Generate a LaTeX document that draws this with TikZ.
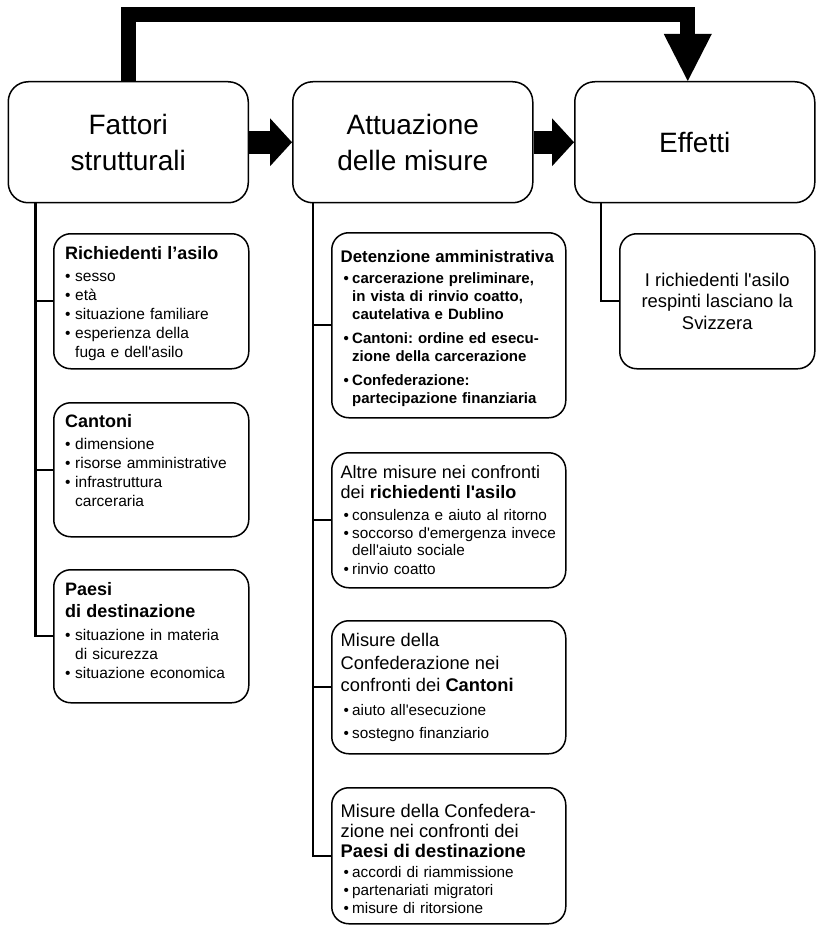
\documentclass[tikz,border=0pt]{standalone}
\usepackage{fontspec}
\setmainfont{Liberation Sans}[Ligatures=TeXOff]
\usetikzlibrary{arrows.meta}
\frenchspacing

\newlength\bulin
\newlength\bulwd
\newcommand{\bul}[2][0pt]{\par\vspace{#1}\leavevmode
  \hangindent=\dimexpr\bulin+\bulwd\relax\hangafter=1
  \hspace*{\bulin}\makebox[\bulwd][l]{\textbullet}#2}

\begin{document}
\begin{tikzpicture}[x=1pt, y=-1pt,
  mainbox/.style={draw, line width=1.5pt, rounded corners=20pt, inner sep=0pt,
    anchor=north west, minimum width=240pt, minimum height=121pt, align=center,
    font=\fontsize{28}{36}\selectfont},
  subbox/.style={draw, line width=1.5pt, rounded corners=17pt, inner sep=0pt, anchor=north west},
  leftbox/.style={subbox, minimum width=195pt},
  midbox/.style={subbox, minimum width=234pt},
  boxtext/.style={anchor=base west, inner sep=0pt, align=left},
  lefttext/.style={boxtext, text width=180pt, font=\fontsize{15.5}{19}\selectfont,
    execute at begin node={\setlength\bulin{0pt}\setlength\bulwd{10pt}}},
  midtext/.style={boxtext, text width=222pt, font=\fontsize{15.3}{17}\selectfont,
    execute at begin node={\setlength\bulin{3pt}\setlength\bulwd{8.5pt}}},
  tree/.style={line width=2.2pt},
  fatarrow/.style={line width=23pt, -{Triangle[length=22pt, width=48pt, line width=0pt]}}]

\useasboundingbox (0,0) rectangle (815,925);

% main row
\node[mainbox] (fat) at (7.5,81) {Fattori\\strutturali};
\node[mainbox] (att) at (292,81) {Attuazione\\delle misure};
\node[mainbox] (eff) at (574,81) {Effetti};

\draw[fatarrow] (fat.east) -- (att.west);
\draw[fatarrow] (att.east) -- (eff.west);

\coordinate (topbar) at (400,15);
\draw[line width=15pt, line join=miter, -{Triangle[length=47pt, width=48pt, line width=0pt]}]
  (fat.north) |- (topbar) -| ([xshift=-7pt]eff.north);

% fattori strutturali
\node[leftbox, minimum height=135pt] (rich) at (53,233) {};
\node[lefttext] (richt) at ([xshift=12pt,yshift=-26pt]rich.north west)
  {{\fontsize{18}{22}\selectfont\bfseries Richiedenti l’asilo\par}%
   \bul[3.5pt]{sesso}\bul{età}\bul{situazione familiare}%
   \bul{esperienza della\newline fuga e dell'asilo}\par};

\node[leftbox, minimum height=134pt] (cant) at (53,402) {};
\node[lefttext] (cantt) at ([xshift=12pt,yshift=-25.5pt]cant.north west)
  {{\fontsize{18}{22}\selectfont\bfseries Cantoni\par}%
   \bul[3pt]{dimensione}\bul{risorse amministrative}%
   \bul{infrastruttura\newline carceraria}\par};

\node[leftbox, minimum height=133pt] (paes) at (53,569) {};
\node[lefttext] (paest) at ([xshift=12pt,yshift=-26pt]paes.north west)
  {{\fontsize{18}{22}\selectfont\bfseries Paesi\newline di destinazione\par}%
   \bul[4pt]{situazione in materia\newline di sicurezza}\bul{situazione economica}\par};

\draw[tree] ([xshift=28pt]fat.south west) |- (rich.west);
\draw[tree] ([xshift=28pt]fat.south west) |- (cant.west);
\draw[tree] ([xshift=28pt]fat.south west) |- (paes.west);

% attuazione delle misure
\node[midbox, minimum height=185pt] (dete) at (331,232) {};
\node[midtext, font=\fontsize{15}{18}\selectfont\bfseries] (detet) at ([xshift=9.5pt,yshift=-30pt]dete.north west)
  {{\fontsize{16.8}{20}\selectfont Detenzione amministrativa\par}%
   \bul[3pt]{carcerazione preliminare,\newline in vista di rinvio coatto,\newline cautelativa e Dublino}%
   \bul[6pt]{Cantoni: ordine ed esecu-\newline zione della carcerazione}%
   \bul[6pt]{Confederazione:\newline partecipazione finanziaria}\par};

\node[midbox, minimum height=135pt] (altr) at (331,452) {};
\node[midtext] (altrt) at ([xshift=9.5pt,yshift=-26.6pt]altr.north west)
  {{\fontsize{18}{20}\selectfont Altre misure nei confronti\newline dei \textbf{richiedenti l'asilo}\par}%
   \bul[4.7pt]{consulenza e aiuto al ritorno}%
   \bul[1.5pt]{soccorso d'emergenza invece\newline dell'aiuto sociale}%
   \bul[2pt]{rinvio coatto}\par};

\node[midbox, minimum height=133pt] (mcan) at (331,620) {};
\node[midtext] (mcant) at ([xshift=9.5pt,yshift=-26.7pt]mcan.north west)
  {{\fontsize{18.3}{22.5}\selectfont Misure della\newline Confederazione nei\newline confronti dei \textbf{Cantoni}\par}%
   \bul[6.3pt]{aiuto all'esecuzione}\bul[6pt]{sostegno finanziario}\par};

\node[midbox, minimum height=136pt] (mpae) at (331,787) {};
\node[midtext] (mpaet) at ([xshift=9.5pt,yshift=-30pt]mpae.north west)
  {{\fontsize{18.3}{20.3}\selectfont Misure della Confedera-\newline zione nei confronti dei\newline \textbf{Paesi di destinazione}\par}%
   \bul[2.4pt]{accordi di riammissione}\bul[1.3pt]{partenariati migratori}%
   \bul[1.3pt]{misure di ritorsione}\par};

\draw[tree] ([xshift=21pt]att.south west) |- (dete.west);
\draw[tree] ([xshift=21pt]att.south west) |- (altr.west);
\draw[tree] ([xshift=21pt]att.south west) |- (mcan.west);
\draw[tree] ([xshift=21pt]att.south west) |- (mpae.west);

% effetti
\node[leftbox, minimum height=135pt, align=center, font=\fontsize{18.4}{21.5}\selectfont] (resp) at (619,233)
  {I richiedenti l'asilo\\respinti lasciano la\\Svizzera};
\draw[tree] ([xshift=27pt]eff.south west) |- (resp.west);

\end{tikzpicture}
\end{document}
